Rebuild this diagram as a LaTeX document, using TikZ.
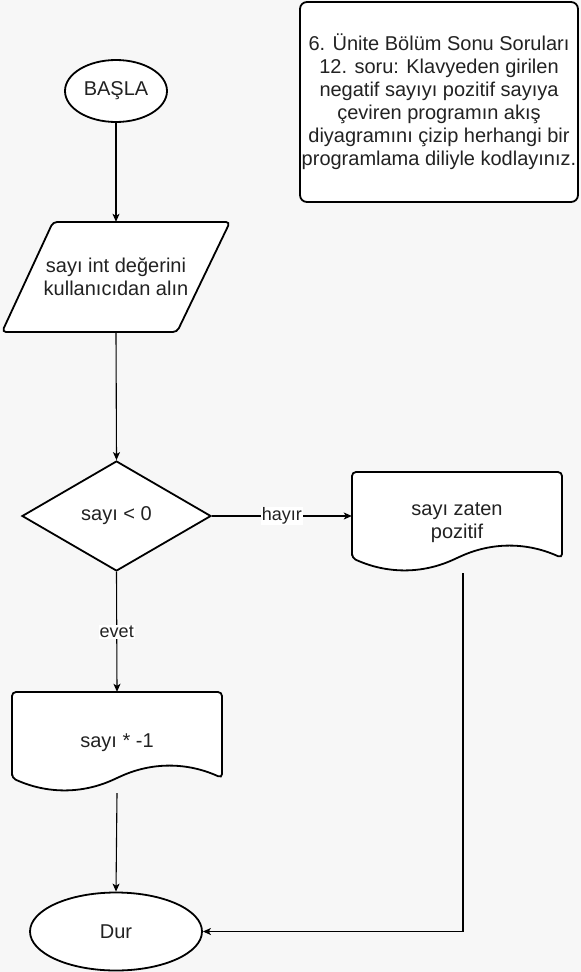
\documentclass[tikz,border=0pt]{standalone}
\usepackage{fontspec}
\setmainfont{Liberation Sans}
\usetikzlibrary{shapes.geometric,arrows.meta}
\definecolor{pagebg}{HTML}{F7F7F7}
\definecolor{txt}{HTML}{222222}
\begin{document}
\begin{tikzpicture}[x=1pt,y=-1pt,
  shapeline/.style={draw=black, line width=1.8pt, fill=white},
  txtstyle/.style={font=\fontsize{20}{23}\selectfont, text=txt},
  conn/.style={draw=black, line width=1.1pt, -{Stealth[length=8pt,width=7pt,inset=2pt]}},
  lbl/.style={fill=white, inner sep=1pt, font=\fontsize{18}{20}\selectfont, text=txt},
]
\fill[pagebg] (0,0) rectangle (581,972);
\useasboundingbox (0,0) rectangle (581,972);

% start
\node[shapeline, ellipse, minimum width=102pt, minimum height=62pt, inner sep=0pt, txtstyle] (start) at (116,91) {BAŞLA};

% input parallelogram
\draw[shapeline, rounded corners=4pt] (53,222) -- (230,222) -- (177,332) -- (2,332) -- cycle;
\node[txtstyle, align=center, minimum width=228pt, minimum height=110pt, inner sep=0pt] (input) at (116,277) {sayı int değerini\\kullanıcıdan alın};

% decision
\node[shapeline, diamond, minimum width=189pt, minimum height=110pt, inner sep=0pt, txtstyle] (dec) at (116.5,516) {sayı < 0};

% document: sayı * -1
\draw[shapeline, rounded corners=4pt] (12,778) -- (12,692) -- (222,692) -- (222,778)
  .. controls (187,762) and (152,762) .. (117,778)
  .. controls (82,794) and (47,794) .. (12,778) -- cycle;
\node[txtstyle, minimum width=210pt, minimum height=101pt, inner sep=0pt] (neg) at (117,742.5) {sayı * -1};

% document: sayı zaten pozitif
\draw[shapeline, rounded corners=4pt] (352,558) -- (352,472) -- (562,472) -- (562,558)
  .. controls (527,542) and (492,542) .. (457,558)
  .. controls (422,574) and (387,574) .. (352,558) -- cycle;
\node[txtstyle, align=center, minimum width=210pt, minimum height=101pt, inner sep=0pt] (pos) at (457,522.5) {sayı zaten\\pozitif};

% stop
\node[shapeline, ellipse, minimum width=172pt, minimum height=78pt, inner sep=0pt, txtstyle] (stop) at (116,931.5) {Dur};

% title box
\node[shapeline, rounded corners=7pt, minimum width=278pt, minimum height=200pt, inner sep=0pt, align=center, txtstyle] (title) at (439,102)
  {6. Ünite Bölüm Sonu Soruları\\12. soru: Klavyeden girilen\\negatif sayıyı pozitif sayıya\\çeviren programın akış\\diyagramını çizip herhangi bir\\programlama diliyle kodlayınız.};

% connectors
\draw[conn] (start.south) -- (input.north);
\draw[conn] (input.south) -- (dec.north);
\draw[conn] (dec.east) -- node[lbl] {hayır} (dec.east -| pos.west);
\draw[conn] (dec.south) -- node[lbl] {evet} (neg.north);
\draw[conn] (neg.south) -- (stop.north);
\draw[conn] ([xshift=6pt]pos.south) |- (stop.east);
\end{tikzpicture}
\end{document}
